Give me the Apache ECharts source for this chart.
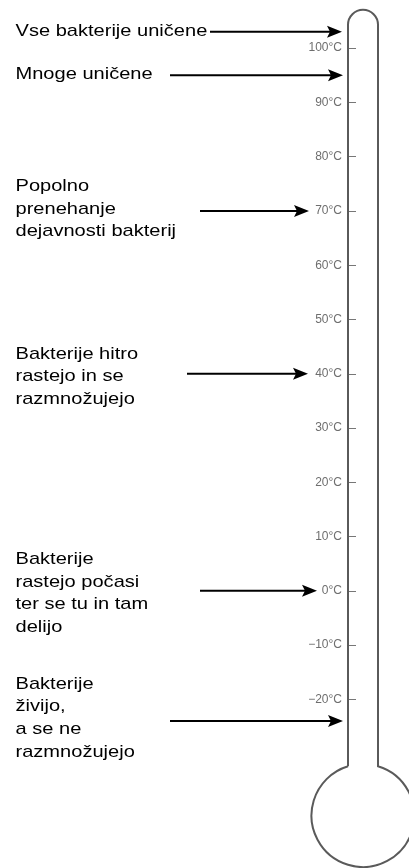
<!DOCTYPE html>
<html>
<head>
<meta charset="utf-8">
<script src="https://cdn.jsdelivr.net/npm/echarts@6/dist/echarts.min.js"></script>
<style>
html,body{margin:0;padding:0;background:#fff;}
#chart{width:409px;height:868px;}
</style>
</head>
<body>
<div id="chart"></div>
<script>
// ---- data ----
const noteTemps = [103, 95, 70, 40, 0, -24];
const noteTexts = [
  'Vse bakterije uničene',
  'Mnoge uničene',
  'Popolno\nprenehanje\ndejavnosti bakterij',
  'Bakterije hitro\nrastejo in se\nrazmnožujejo',
  'Bakterije\nrastejo počasi\nter se tu in tam\ndelijo',
  'Bakterije\nživijo,\na se ne\nrazmnožujejo'
];
const tickValues = [100, 90, 80, 70, 60, 50, 40, 30, 20, 10, 0, -10, -20];

// ---- layout (x in pixels relative to the tube's left wall) ----
const arrowStart = [-138, -178, -148, -161, -148, -178];
const arrowEnd = [-6, -5, -39, -40, -31, -5];
const textShift = [-0.6, -1, -2, 3, 2.6, -3];
const textX = -332.5;
const tubeW = 30;
const capT = 104.3;
const bulbT = -41.4;
const bulbR = 51.5;

const chart = echarts.init(document.getElementById('chart'), null, {renderer: 'canvas'});

function fmt(v) {
  return (v < 0 ? '\u2212' + (-v) : String(v)) + '°C';
}

const option = {
  backgroundColor: '#ffffff',
  animation: false,
  grid: {left: 348, right: 31, top: 21, bottom: 141.5, containLabel: false, outerBoundsMode: 'none'},
  xAxis: {type: 'value', min: 0, max: tubeW, show: false},
  yAxis: {
    type: 'value', min: -25, max: 105,
    position: 'left',
    axisLine: {show: false, onZero: false},
    axisTick: {show: true, inside: true, length: 8, lineStyle: {color: '#777', width: 1}, customValues: tickValues},
    axisLabel: {show: true, margin: 6, color: '#6e6e6e', fontSize: 12, fontFamily: '"Liberation Sans", Arial, sans-serif', formatter: fmt, customValues: tickValues},
    splitLine: {show: false}
  },
  series: [
    {
      type: 'custom',
      name: 'thermometer',
      data: [[0]],
      clip: false,
      silent: true,
      renderItem: function (params, api) {
        const L = api.coord([0, capT]);
        const R = api.coord([tubeW, capT]);
        const B = api.coord([tubeW / 2, bulbT]);
        const r = (R[0] - L[0]) / 2;
        const jy = B[1] - Math.sqrt(bulbR * bulbR - r * r);
        const d = 'M ' + L[0] + ' ' + jy + ' L ' + L[0] + ' ' + L[1] +
          ' A ' + r + ' ' + r + ' 0 0 1 ' + R[0] + ' ' + R[1] +
          ' L ' + R[0] + ' ' + jy +
          ' A ' + bulbR + ' ' + bulbR + ' 0 1 1 ' + L[0] + ' ' + jy;
        return {
          type: 'path',
          shape: {pathData: d},
          style: {fill: 'none', stroke: '#5a5a5a', lineWidth: 2}
        };
      }
    },
    {
      type: 'custom',
      name: 'notes',
      data: noteTemps.map(function (t, i) { return [i, t]; }),
      clip: false,
      silent: true,
      renderItem: function (params, api) {
        const i = api.value(0);
        const t = api.value(1);
        const s = api.coord([arrowStart[i], t]);
        const e = api.coord([arrowEnd[i], t]);
        const tx = api.coord([textX, t]);
        const y = s[1];
        const hl = 15, hw = 6;
        return {
          type: 'group',
          children: [
            {type: 'line', shape: {x1: s[0], y1: y, x2: e[0] - hl + 3, y2: y}, style: {stroke: '#000', lineWidth: 2}},
            {type: 'polygon', shape: {points: [[e[0], y], [e[0] - hl, y - hw], [e[0] - hl + 3, y], [e[0] - hl, y + hw]]}, style: {fill: '#000'}},
            {type: 'text', x: tx[0], y: y + textShift[i], scaleX: 1.18,
              style: {text: noteTexts[i], fill: '#000', fontSize: 17, fontFamily: '"Liberation Sans", Arial, sans-serif', align: 'left', verticalAlign: 'middle', lineHeight: 22.7}}
          ]
        };
      }
    }
  ]
};
chart.setOption(option);
</script>
</body>
</html>
